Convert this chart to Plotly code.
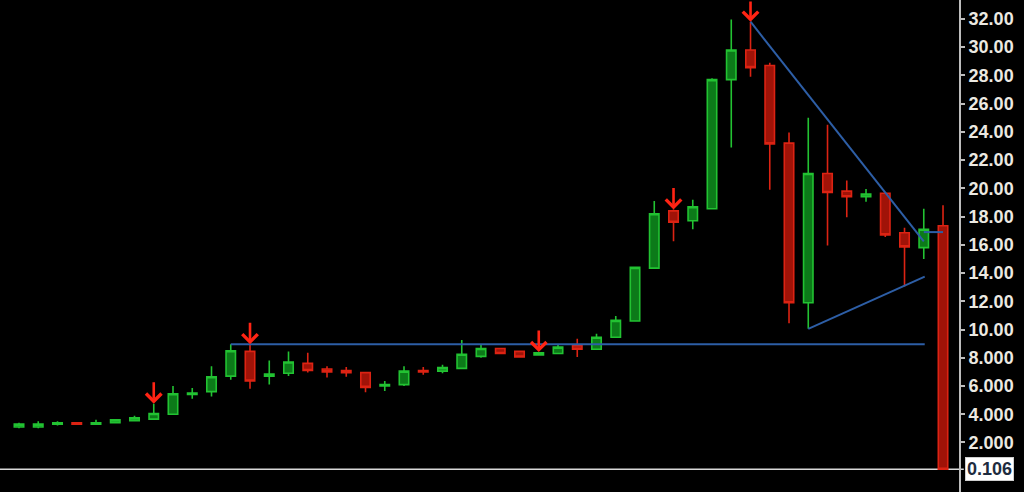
import plotly.graph_objects as go

# ---- data ----
opens = [3.1, 3.1, 3.3, 3.4, 3.3, 3.4, 3.55, 3.65, 4.0, 5.4,
         5.6, 6.7, 8.45, 6.7, 6.9, 7.6, 7.2, 7.1, 6.95, 6.0,
         6.1, 7.1, 7.05, 7.25, 8.1, 8.65, 8.45, 8.2, 8.3, 8.85,
         8.6, 9.45, 10.6, 14.35, 18.4, 17.7, 18.55, 27.7, 29.8, 28.7,
         23.2, 11.9, 21.05, 19.8, 19.4, 19.65, 16.85, 15.8, 17.35]
highs = [3.4, 3.5, 3.5, 3.45, 3.6, 3.65, 3.9, 4.75, 6.0, 5.85,
         7.4, 8.95, 8.95, 7.8, 8.45, 8.35, 7.4, 7.35, 7.0, 6.35,
         7.4, 7.35, 7.5, 9.25, 8.95, 8.7, 8.5, 8.4, 8.9, 9.35,
         9.7, 10.95, 14.45, 19.1, 18.5, 19.2, 27.8, 31.95, 31.8, 28.9,
         23.95, 25.0, 24.5, 20.55, 19.95, 19.7, 17.2, 18.55, 18.8]
lows = [3.0, 3.0, 3.2, 3.3, 3.25, 3.35, 3.5, 3.6, 3.95, 5.1,
        5.25, 6.45, 5.8, 6.1, 6.7, 6.95, 6.6, 6.65, 5.55, 5.65,
        6.0, 6.8, 6.9, 7.2, 8.0, 8.25, 8.0, 8.15, 8.25, 8.05,
        8.55, 9.4, 10.55, 14.3, 16.25, 17.1, 18.5, 22.9, 27.9, 19.9,
        10.45, 10.05, 15.95, 17.95, 19.05, 16.55, 13.05, 15.0, 0.106]
closes = [3.3, 3.3, 3.4, 3.3, 3.4, 3.6, 3.75, 4.05, 5.45, 5.5,
          6.65, 8.5, 6.35, 6.85, 7.7, 7.1, 7.0, 6.95, 5.9, 6.1,
          7.05, 7.0, 7.3, 8.25, 8.65, 8.3, 8.05, 8.35, 8.75, 8.6,
          9.45, 10.65, 14.4, 18.2, 17.6, 18.7, 27.7, 29.8, 28.55, 23.15,
          11.9, 21.05, 19.7, 19.4, 19.6, 16.7, 15.85, 17.1, 0.106]
idx = list(range(len(opens)))

# signal arrows (candle indices)
arrow_idx = [7, 12, 27, 34, 38]

# trend lines: (x indices, values)
support_x = [11, 47.05]
support_y = [8.95, 8.95]
down_x = [38, 47]
down_y = [31.8, 16.25]
up_x = [41, 47.05]
up_y = [10.05, 13.75]
mark_x = [47, 48]
mark_y = [16.9, 16.9]

last_price = 0.106
tick_vals = [2, 4, 6, 8, 10, 12, 14, 16, 18, 20, 22, 24, 26, 28, 30, 32]
tick_text = ["2.000", "4.000", "6.000", "8.000", "10.00", "12.00", "14.00", "16.00",
             "18.00", "20.00", "22.00", "24.00", "26.00", "28.00", "30.00", "32.00"]

fig = go.Figure()

fig.add_trace(go.Candlestick(
    x=idx, open=opens, high=highs, low=lows, close=closes,
    increasing=dict(fillcolor="#0c7a19", line=dict(color="#22c232", width=1.6)),
    decreasing=dict(fillcolor="#a01308", line=dict(color="#dc2313", width=1.6)),
    whiskerwidth=0, showlegend=False, hoverinfo="skip",
))

blue = "#2d5ea6"
for xs, ys in [(support_x, support_y), (down_x, down_y), (up_x, up_y), (mark_x, mark_y)]:
    fig.add_trace(go.Scatter(x=xs, y=ys, mode="lines",
                             line=dict(color=blue, width=2),
                             showlegend=False, hoverinfo="skip"))

annotations = []
for i in arrow_idx:
    annotations.append(dict(
        x=idx[i], y=highs[i], xref="x", yref="y",
        showarrow=True, arrowhead=4, arrowsize=1.15, arrowwidth=2.6,
        arrowcolor="#ff2414", ax=0, ay=-23, standoff=0, text="",
    ))
annotations.append(dict(
    x=1, xref="paper", y=last_price, yref="y", xanchor="left", yanchor="middle",
    xshift=6, showarrow=False, text="0.106",
    font=dict(family="Liberation Sans", size=18, color="#1e2c40", weight="bold"),
    bgcolor="#ffffff", bordercolor="#cfcfcf", borderwidth=1, borderpad=1,
))

fig.update_layout(
    width=1024, height=492,
    margin=dict(l=0, r=65, t=0, b=0),
    paper_bgcolor="#000000", plot_bgcolor="#000000",
    boxgap=0.3,
    xaxis=dict(range=[-0.987, 48.83], visible=False, rangeslider=dict(visible=False),
               showgrid=False, zeroline=False),
    yaxis=dict(range=[-1.509, 33.34], side="right", showgrid=False, zeroline=False,
               showline=True, linecolor="#bdbdbd", linewidth=2,
               ticks="outside", ticklen=4, tickwidth=1.5, tickcolor="#bdbdbd",
               tickvals=tick_vals, ticktext=tick_text,
               tickfont=dict(family="Liberation Sans", size=18, color="#ece9e2", weight="bold")),
    shapes=[dict(type="line", xref="paper", yref="y", x0=0, x1=1.005,
                 y0=last_price, y1=last_price, line=dict(color="#d9d9d9", width=1.5),
                 layer="below")],
    annotations=annotations,
    dragmode=False,
)

fig.write_html(
    "out.html",
    config={"displayModeBar": False},
    post_script="document.body.style.margin='0';document.body.style.overflow='hidden';document.body.style.background='#000';",
)
